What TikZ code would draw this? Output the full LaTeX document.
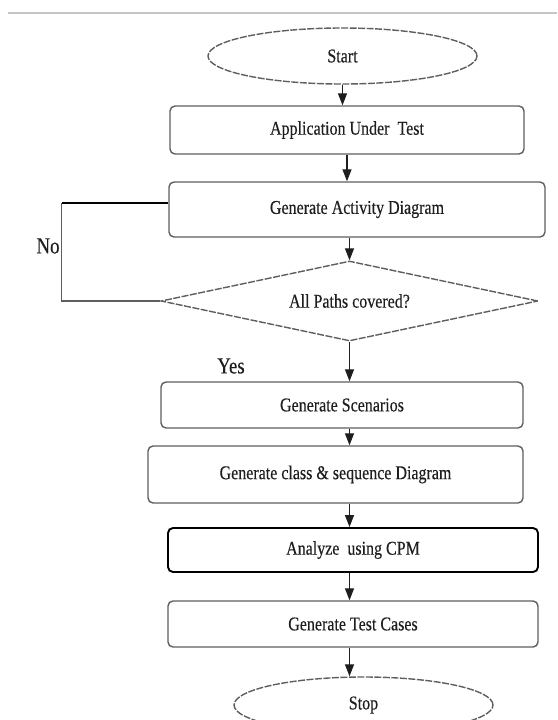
\documentclass[tikz,border=0pt]{standalone}
\usepackage{fontspec}
\setmainfont[FakeStretch=0.82,FakeBold=0.3]{Liberation Serif}
\usetikzlibrary{shapes.geometric,arrows.meta}
\definecolor{edgegray}{HTML}{5E5E5E}
\definecolor{inkgray}{HTML}{1E1E1E}
\tikzset{
  procbox/.style={draw=edgegray,line width=1.4pt,rounded corners=5pt,inner sep=0pt,
    text=inkgray,font=\fontsize{19.5}{22}\selectfont},
  terminal/.style={ellipse,draw=edgegray,line width=1.4pt,dash pattern=on 7pt off 1.5pt,
    inner sep=0pt,text=inkgray,font=\fontsize{19.5}{22}\selectfont},
  decision/.style={diamond,aspect=4.7,draw=edgegray,line width=1.4pt,dash pattern=on 7pt off 1.5pt,
    inner sep=0pt,text=inkgray,font=\fontsize{19.5}{22}\selectfont},
  arr/.style={-{Triangle[length=12pt,width=9pt]},line width=1.3pt,draw=inkgray,fill=inkgray},
  branch/.style={text=inkgray,font=\fontsize{23}{26}\selectfont}
}
\begin{document}
\begin{tikzpicture}[x=1pt,y=-1pt]
    \useasboundingbox (0,0) rectangle (557,720);
    \draw[gray!45,line width=1.2pt] (8,13) -- (557,13);

    \node[terminal,minimum width=269pt,minimum height=56pt] (start) at (342.5,56) {Start};
    \node[procbox,minimum width=354pt,minimum height=48pt] (aut) at (347,130) {Application Under\ \ Test};
    \node[procbox,minimum width=376pt,minimum height=55pt] (gad) at (357,209.5) {Generate Activity Diagram};
    \node[decision,minimum width=377pt,minimum height=80pt] (apc) at (349.5,301) {All Paths covered?};
    \node[procbox,minimum width=362pt,minimum height=46pt] (sce) at (342,405) {Generate Scenarios};
    \node[procbox,minimum width=375pt,minimum height=57pt] (cls) at (335.5,474.5) {Generate class \& sequence Diagram};
    \node[procbox,draw=black,line width=1.9pt,minimum width=370pt,minimum height=44pt] (cpm) at (353,550) {Analyze\ \ using CPM};
    \node[procbox,minimum width=370pt,minimum height=46pt] (tst) at (353,624) {Generate Test Cases};
    \node[terminal,minimum width=259pt,minimum height=56pt] (stop) at (363.5,705) {Stop};

    \node[branch] (no) at (48,246) {No};
    \node[branch] (yes) at (231,366) {Yes};

    \draw[arr] (start.south) -- (start.south |- aut.north);
    \draw[arr] (aut.south) -- (aut.south |- gad.north);
    \draw[arr] (gad.south -| apc.north) -- (apc.north);
    \draw[arr] (apc.south) -- (apc.south |- sce.north);
    \foreach \a/\b in {sce/cls,cls/cpm,cpm/tst,tst/stop}
        \draw[arr] (\a.south -| apc) -- (\b.north -| apc);

    \draw[line width=1.2pt,draw=edgegray] (apc.west) -- ++(-98.5pt,0) coordinate (elbow) -- (elbow |- 0,203);
    \draw[line width=1.6pt,draw=black] (elbow |- 0,203) -- ([yshift=6.5pt]gad.west);
\end{tikzpicture}
\end{document}
